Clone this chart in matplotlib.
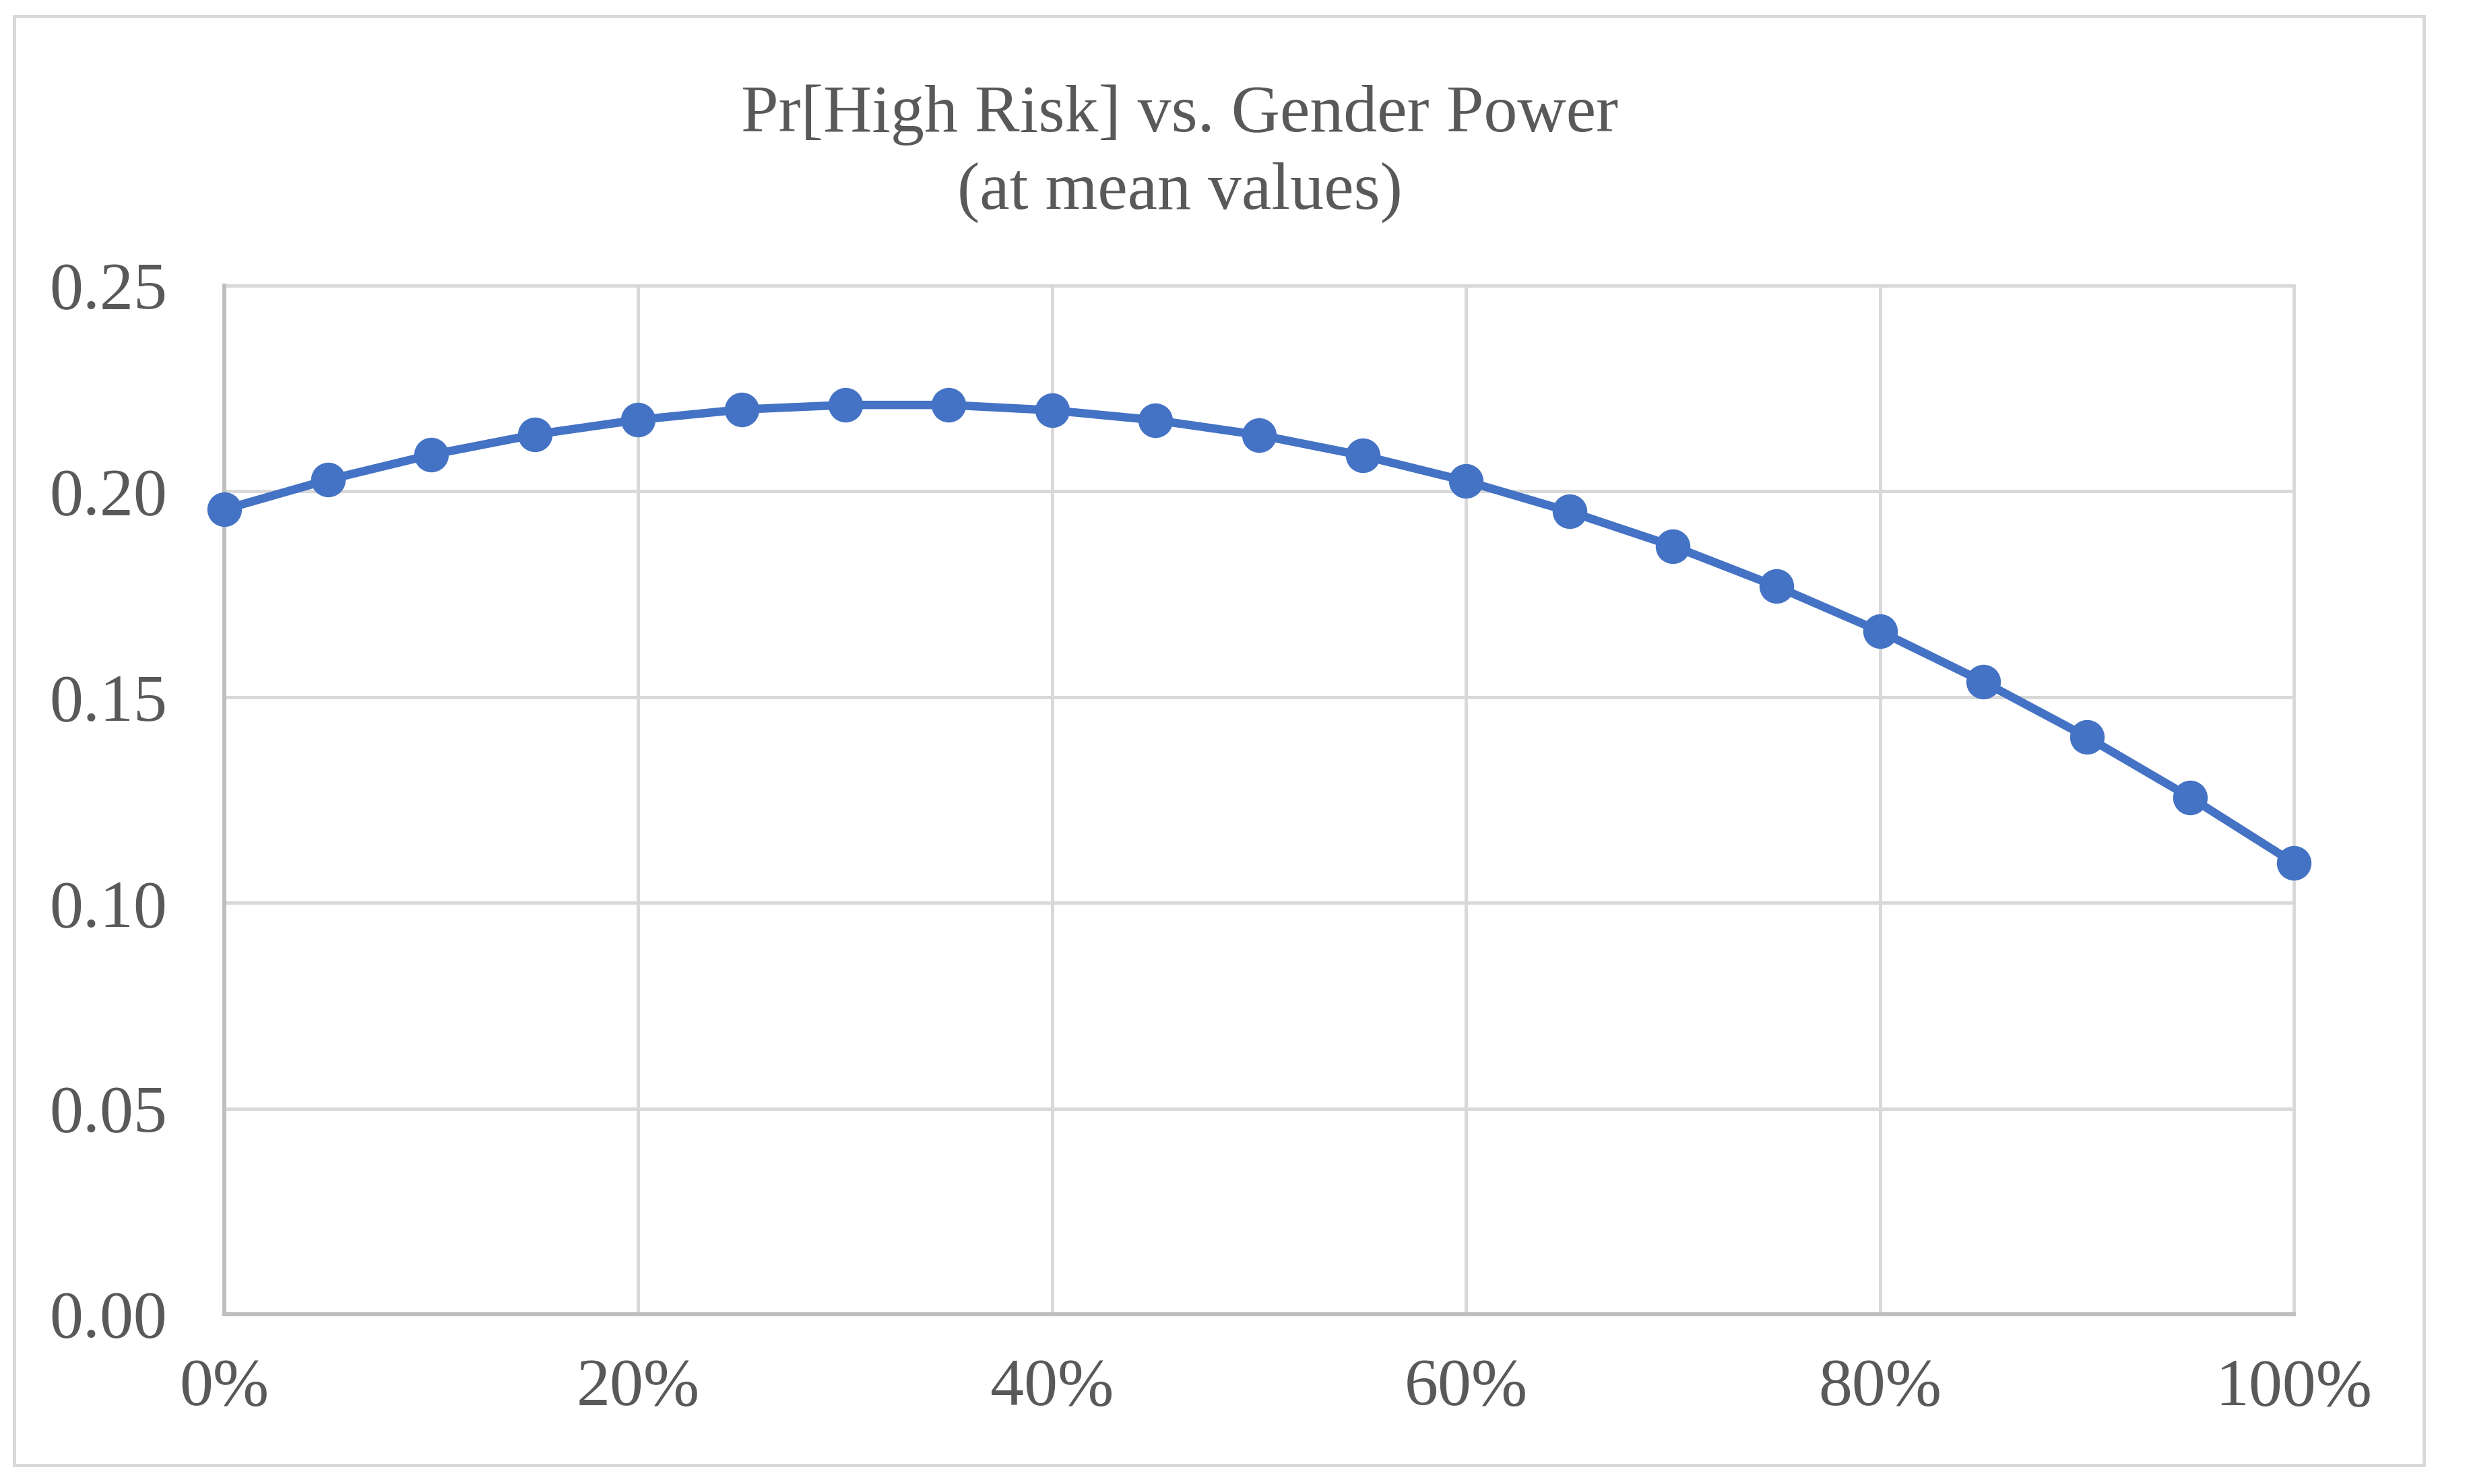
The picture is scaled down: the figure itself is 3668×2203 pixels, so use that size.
import matplotlib
matplotlib.use("Agg")
import matplotlib.pyplot as plt
from matplotlib.patches import Rectangle
from matplotlib.ticker import FuncFormatter

# ---- data ----
gender_power = [0.00, 0.05, 0.10, 0.15, 0.20, 0.25, 0.30, 0.35, 0.40, 0.45, 0.50,
                0.55, 0.60, 0.65, 0.70, 0.75, 0.80, 0.85, 0.90, 0.95, 1.00]
pr_high_risk = [0.1956, 0.2028, 0.2089, 0.2138, 0.2174, 0.2199, 0.2210, 0.2210,
                0.2197, 0.2173, 0.2137, 0.2087, 0.2025, 0.1951, 0.1867, 0.1769,
                0.1660, 0.1537, 0.1403, 0.1256, 0.1097]
x_ticks = [0.0, 0.2, 0.4, 0.6, 0.8, 1.0]
y_ticks = [0.00, 0.05, 0.10, 0.15, 0.20, 0.25]
title_lines = ["Pr[High Risk] vs. Gender Power", "(at mean values)"]

TEXT = "#595959"
GRID = "#D9D9D9"
AXIS = "#BFBFBF"
LINE = "#4472C4"

plt.rcParams["font.family"] = ["Liberation Serif", "DejaVu Serif"]

W, H = 3668, 2203
fig = plt.figure(figsize=(W / 100, H / 100), dpi=100)
fig.patch.set_facecolor("white")

# outer chart border
fig.patches.append(Rectangle((21 / W, 1 - 2175 / H), (3598 - 21) / W, (2175 - 24) / H,
                             transform=fig.transFigure, fill=False,
                             edgecolor=GRID, linewidth=3.6, zorder=0))

ax = fig.add_axes([333 / W, 1 - 1951 / H, (3405 - 333) / W, (1951 - 424) / H])
ax.plot(gender_power, pr_high_risk, color=LINE, linewidth=9, marker="o",
        markersize=36, markerfacecolor=LINE, markeredgecolor=LINE,
        solid_joinstyle="round", clip_on=False, zorder=3)

ax.set_xlim(0, 1)
ax.set_ylim(0, 0.25)
ax.set_xticks(x_ticks)
ax.set_yticks(y_ticks)
ax.xaxis.set_major_formatter(FuncFormatter(lambda v, p: f"{v*100:.0f}%"))
ax.yaxis.set_major_formatter(FuncFormatter(lambda v, p: f"{v:.2f}"))
ax.tick_params(axis="both", length=0, labelsize=72, labelcolor=TEXT)
ax.tick_params(axis="x", pad=47)
ax.tick_params(axis="y", pad=61)
ax.grid(True, color=GRID, linewidth=3.6)
ax.set_axisbelow(True)
for s in ["top", "right"]:
    ax.spines[s].set_color(GRID)
    ax.spines[s].set_linewidth(3.6)
    ax.spines[s].set_zorder(0.5)
for s in ["left", "bottom"]:
    ax.spines[s].set_color(AXIS)
    ax.spines[s].set_linewidth(4.3)
    ax.spines[s].set_zorder(1)

fig.text(1751 / W, 1 - 195 / H, title_lines[0], ha="center",
         va="baseline", fontsize=72, color=TEXT)
fig.text(1751 / W, 1 - 310 / H, title_lines[1], ha="center",
         va="baseline", fontsize=72, color=TEXT)

fig.savefig("out.png", dpi=100, facecolor="white")
